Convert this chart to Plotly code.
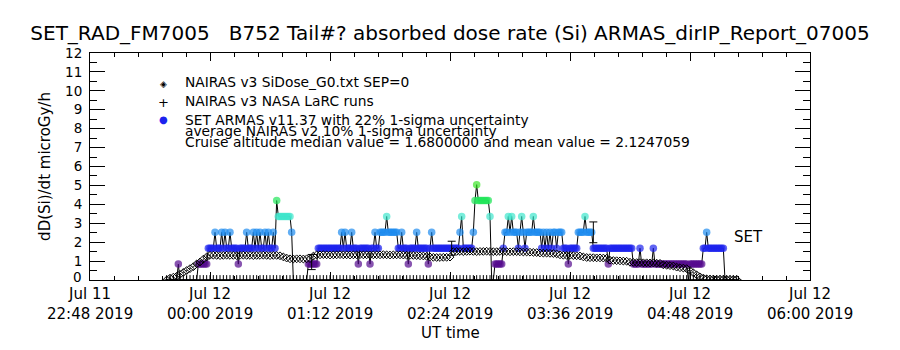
import plotly.graph_objects as go
import pandas as pd

# ---------------- data ----------------
BASE = "2019-07-11 22:48"          # left edge of the time axis
X_END_MIN = 432                    # right edge: 2019-07-12 06:00

# x-axis major tick labels
tick_line1 = ["Jul 11", "Jul 12", "Jul 12", "Jul 12", "Jul 12", "Jul 12", "Jul 12"]
tick_line2 = ["22:48 2019", "00:00 2019", "01:12 2019", "02:24 2019",
              "03:36 2019", "04:48 2019", "06:00 2019"]
tick_min = [0, 72, 144, 216, 288, 360, 432]

# y-axis tick labels
y_ticks = list(range(13))

# NAIRAS v3 SiDose (diamonds), one value every 2 minutes from 23:34
nairas_start_min = 46
nairas_step_min = 2
nairas_dose = [
    0.0, 0.1, 0.15, 0.2, 0.3, 0.4, 0.5, 0.6, 0.7, 0.85, 0.95, 1.1, 1.22,
    1.30, 1.31, 1.30, 1.29, 1.30, 1.31, 1.30, 1.30, 1.29, 1.30, 1.31, 1.30,
    1.30, 1.29, 1.30, 1.30, 1.31, 1.30, 1.29, 1.30, 1.30, 1.28,
    1.22, 1.16,
    1.12, 1.11, 1.12, 1.12, 1.11, 1.12, 1.13,
    1.26,
    1.33, 1.33, 1.34, 1.33, 1.32, 1.33, 1.33, 1.34, 1.33, 1.33, 1.32, 1.33,
    1.33, 1.34, 1.33, 1.33, 1.32, 1.33, 1.33, 1.33, 1.34, 1.33, 1.32, 1.33,
    1.33, 1.33, 1.32, 1.31, 1.30, 1.30, 1.29, 1.28, 1.27, 1.25,
    1.22, 1.20, 1.19, 1.19, 1.20, 1.20, 1.21,
    1.50, 1.51, 1.51, 1.50, 1.51, 1.52, 1.51, 1.50, 1.51, 1.51, 1.52, 1.51,
    1.50, 1.50, 1.51, 1.51, 1.50, 1.49, 1.50, 1.50, 1.49, 1.48, 1.48, 1.47,
    1.46, 1.45,
    1.43, 1.42, 1.42, 1.41, 1.40, 1.38,
    1.33, 1.31, 1.30, 1.30, 1.29, 1.28, 1.27,
    1.22, 1.19, 1.18, 1.18, 1.17, 1.17, 1.16, 1.15,
    1.05, 1.03, 1.02, 1.01, 1.00, 0.99,
    0.94, 0.93, 0.92, 0.92, 0.91, 0.91, 0.90, 0.90, 0.89, 0.88,
    0.80, 0.78, 0.76, 0.74,
    0.68, 0.65, 0.63, 0.60,
    0.50, 0.38, 0.27, 0.17, 0.10,
    0.06, 0.05, 0.05, 0.04, 0.04, 0.04, 0.03, 0.03, 0.03, 0.03,
]

# NAIRAS v3 NASA LaRC runs (+): zero along the flight, every 2 minutes
larc_time_min = list(range(46, 390, 2))
larc_dose = [0.0] * len(larc_time_min)

# SET ARMAS, one-minute samples from 23:36, given as runs (dose, length in minutes)
armas_start_min = 48
armas_run_dose = [
    0, 0.84, 0, 0.84, 1.68, 2.52, 1.68, 2.52, 1.68, 2.52, 1.68, 2.52, 1.68, 0.84,
    1.68, 2.52, 1.68, 2.52, 1.68, 2.52, 1.68, 2.52, 1.68, 2.52, 1.68, 2.52, 1.68,
    2.52, 1.68, 4.2, 3.36, 2.52, 0, 0.84, 1.68, 2.52, 1.68, 2.52, 1.68, 2.52,
    1.68, 0.84, 1.68, 0.84, 1.68, 2.52, 1.68, 2.52, 3.36, 2.52, 1.68, 2.52, 1.68,
    0.84, 1.68, 2.52, 1.68, 0.84, 1.68, 2.52, 1.68, 2.52, 3.36, 1.68, 2.52, 4.2,
    5.04, 4.2, 3.36, 0, 0.84, 1.68, 2.52, 3.36, 2.52, 3.36, 2.52, 1.68, 2.52,
    3.36, 2.52, 1.68, 2.52, 3.36, 2.52, 1.68, 2.52, 1.68, 2.52, 1.68, 2.52, 1.68,
    2.52, 1.68, 2.52, 1.68, 0.84, 1.68, 2.52, 3.36, 2.52, 1.68, 0.84, 1.68, 0.84,
    1.68, 0.84, 1.68, 0.84, 0, 0.84, 1.68, 2.52, 1.68, 0,
]
armas_run_len = [
    5, 1, 11, 6, 4, 1, 3, 1, 1, 1, 2, 1, 4, 1,
    4, 1, 3, 1, 1, 1, 1, 1, 2, 1, 1, 1, 2,
    1, 1, 1, 8, 1, 9, 6, 14, 1, 1, 1, 3, 1,
    3, 1, 6, 1, 2, 1, 2, 4, 1, 6, 2, 1, 3,
    1, 4, 1, 6, 1, 1, 1, 16, 1, 1, 6, 1, 1,
    1, 7, 1, 2, 5, 1, 2, 1, 1, 1, 3, 1, 1,
    1, 1, 1, 4, 1, 4, 1, 1, 1, 1, 1, 1, 1,
    2, 1, 3, 3, 1, 5, 4, 1, 4, 9, 1, 14, 4,
    1, 7, 1, 20, 1, 8, 2, 1, 10, 8,
]

# SET ARMAS 1-sigma uncertainty bars
err_time_min = [133, 217, 302]
err_center = [0.95, 1.68, 2.52]
err_low = [0.55, 1.31, 1.97]
err_high = [1.35, 2.05, 3.07]

# colour of an ARMAS dot for each dose level
level_color = {0: "#000000", 0.84: "#560b8e", 1.68: "#1c22ee", 2.52: "#1e8cf0",
               3.36: "#3ee6cc", 4.2: "#22e65a", 5.04: "#3ce628"}

title_text = ("SET_RAD_FM7005\u00a0\u00a0\u00a0B752 Tail#? absorbed dose rate (Si) "
              "ARMAS_dirIP_Report_07005")
legend_lines = [
    "NAIRAS v3 SiDose_G0.txt SEP=0",
    "NAIRAS v3 NASA LaRC runs",
    "SET ARMAS v11.37 with 22% 1-sigma uncertainty",
    "average NAIRAS v2 10% 1-sigma uncertainty",
    "Cruise altitude median value = 1.6800000 and mean value = 2.1247059",
]

# ---------------- build ----------------
base = pd.Timestamp(BASE)


def at(m):
    return base + pd.Timedelta(minutes=m)


nairas_t = [at(nairas_start_min + i * nairas_step_min) for i in range(len(nairas_dose))]

armas_t, armas_v = [], []
m = armas_start_min
for d, n in zip(armas_run_dose, armas_run_len):
    for _ in range(n):
        armas_t.append(at(m))
        armas_v.append(d)
        m += 1
armas_col = [level_color[v] for v in armas_v]
armas_size = [0 if v == 0 else 7.5 for v in armas_v]

FONT = "DejaVu Sans"
fig = go.Figure()

fig.add_trace(go.Scatter(
    x=armas_t, y=armas_v, mode="lines+markers",
    line=dict(color="black", width=1),
    marker=dict(color=armas_col, size=armas_size, line=dict(width=0)),
    hoverinfo="skip"))

fig.add_trace(go.Scatter(
    x=nairas_t, y=nairas_dose, mode="markers",
    marker=dict(symbol="diamond-open-dot", size=6, color="black", line=dict(width=1)),
    hoverinfo="skip"))

fig.add_trace(go.Scatter(
    x=[at(t) for t in larc_time_min], y=larc_dose, mode="markers",
    marker=dict(symbol="cross-thin", size=7, color="black", line=dict(width=1, color="black")),
    hoverinfo="skip"))

fig.add_trace(go.Scatter(
    x=[at(t) for t in err_time_min], y=err_center, mode="markers",
    marker=dict(size=1, color="rgba(0,0,0,0)"),
    error_y=dict(type="data", symmetric=False,
                 array=[h - c for h, c in zip(err_high, err_center)],
                 arrayminus=[c - l for l, c in zip(err_low, err_center)],
                 color="black", thickness=1, width=4),
    hoverinfo="skip"))

L, R, T, B = 90, 90, 53, 70
W, H = 900, 350
PW, PH = W - L - R, H - T - B


def px(x):
    return (x - L) / PW


def py(y):
    return (H - B - y) / PH


ann = []
for tm, a, b in zip(tick_min, tick_line1, tick_line2):
    ann.append(dict(x=at(tm), y=0, xref="x", yref="paper", text=a + "<br>" + b,
                    showarrow=False, xanchor="center", yanchor="middle", yshift=-24,
                    font=dict(family=FONT, size=15, color="black")))
ann.append(dict(x=0.5, y=py(333), xref="paper", yref="paper", text="UT time",
                showarrow=False, xanchor="center", yanchor="middle",
                font=dict(family=FONT, size=15, color="black")))
# lowest y label is drawn a little above the axis corner, as in the reference
ann.append(dict(x=0, y=y_ticks[0], xref="paper", yref="y", text=str(y_ticks[0]),
                showarrow=False, xanchor="right", yanchor="middle",
                xshift=-6, yshift=3,
                font=dict(family=FONT, size=13.5, color="black")))

# legend
leg_y = [81.5, 100.5, 120, 131, 142]
for txt, yy in zip(legend_lines, leg_y):
    ann.append(dict(x=px(183), y=py(yy), xref="paper", yref="paper", text=txt,
                    showarrow=False, xanchor="left", yanchor="middle",
                    font=dict(family=FONT, size=13.8, color="black")))
ann.append(dict(x=px(163), y=py(84), xref="paper", yref="paper", text="\u25c8",
                showarrow=False, xanchor="center", yanchor="middle",
                font=dict(family="DejaVu Sans", size=9, color="black")))
ann.append(dict(x=px(163), y=py(102), xref="paper", yref="paper", text="+",
                showarrow=False, xanchor="center", yanchor="middle",
                font=dict(family="DejaVu Sans", size=13, color="black")))
ann.append(dict(x=px(163), y=py(119), xref="paper", yref="paper", text="\u25cf",
                showarrow=False, xanchor="center", yanchor="middle",
                font=dict(family="DejaVu Sans", size=10, color=level_color[1.68])))

ann.append(dict(x=at(385), y=2.27, xref="x", yref="y", text="SET", showarrow=False,
                xanchor="left", yanchor="middle",
                font=dict(family=FONT, size=15, color="black")))

fig.update_layout(
    width=W, height=H, margin=dict(l=L, r=R, t=T, b=B),
    paper_bgcolor="white", plot_bgcolor="white", showlegend=False,
    font=dict(family=FONT, color="black"),
    title=dict(text=title_text, x=0.5, xref="paper", xanchor="center",
               y=1 - 32.5 / H, yanchor="middle",
               font=dict(family=FONT, size=20, color="black")),
    annotations=ann,
    xaxis=dict(type="date", range=[at(0), at(X_END_MIN)],
               tickmode="array", tickvals=[at(t) for t in tick_min],
               showticklabels=False,
               ticks="inside", ticklen=8, tickcolor="black", tickwidth=1,
               minor=dict(ticks="inside", ticklen=4, tickcolor="black",
                          dtick=14.4 * 60000, tick0=at(0), showgrid=False),
               showline=True, linecolor="black", linewidth=1, mirror="allticks",
               showgrid=False, zeroline=False),
    yaxis=dict(range=[0, 12], tickmode="array", tickvals=y_ticks,
               ticktext=[""] + [str(v) for v in y_ticks[1:]],
               ticks="inside", ticklen=15, tickcolor="black", tickwidth=1,
               minor=dict(ticks="inside", ticklen=7, tickcolor="black", dtick=0.5,
                          showgrid=False),
               tickfont=dict(family=FONT, size=13.5, color="black"),
               ticklabelstandoff=4,
               showline=True, linecolor="black", linewidth=1, mirror="allticks",
               showgrid=False, zeroline=False,
               title=dict(text="dD(Si)/dt microGy/h", standoff=10,
                          font=dict(family=FONT, size=15, color="black"))),
)

fig.write_html("out.html")
